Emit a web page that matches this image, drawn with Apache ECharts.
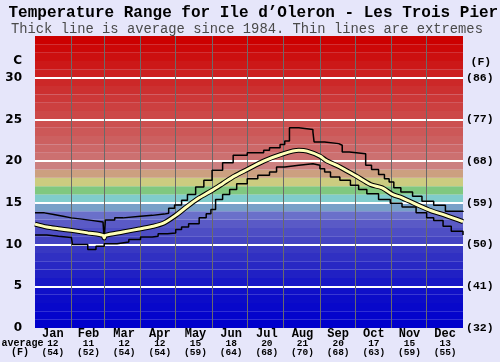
<!DOCTYPE html>
<html><head><meta charset="utf-8">
<script src="https://cdn.jsdelivr.net/npm/echarts@6/dist/echarts.min.js"></script>
<style>html,body{margin:0;padding:0;background:#e6e6fa}#c{width:500px;height:362px}</style>
</head><body><div id="c"></div>
<script>
// ---- data ----
const months = ['Jan','Feb','Mar','Apr','May','Jun','Jul','Aug','Sep','Oct','Nov','Dec'];
const avgC = [12,11,12,12,15,18,20,21,20,17,15,13];
const avgF = [54,52,54,54,59,64,68,70,68,63,59,55];
const cTickLabels = ['0','5','10','15','20','25','30'];
const fTickLabels = ['(32)','(41)','(50)','(59)','(68)','(77)','(86)'];
const monthStartDays = [31,59,90,120,151,181,212,243,273,304,334];

const maxDays  = [0,8,16,24,31,40,48,58,59,60,68,75,90,100,110,114,119,125,130,137,144,151,160,169,181,195,200,209,213,217,225,237,238,247,259,262,268,282,287,293,298,302,306,312,322,330,340,350,365];
const maxTemps = [13.8,13.6,13.4,13.2,13.05,12.9,12.7,12.7,10.6,12.95,13.2,13.4,13.5,13.65,13.75,14.35,14.75,15.3,16.0,16.9,17.7,18.9,19.8,20.7,21.0,21.3,21.6,22.0,22.4,24.0,23.8,23.5,22.3,22.1,21.9,21.1,20.9,19.5,19.0,18.4,17.9,17.5,16.8,16.3,15.8,15.2,14.7,14.0,13.9];

const avgDays  = [0,10,20,31,45,55,58,59,60,75,90,101,110,120,130,140,151,160,170,181,195,210,225,232,243,248,260,274,286,296,305,313,336,349,365];
const avgTemps = [12.45,12.1,11.9,11.7,11.4,11.2,11.1,10.8,11.1,11.5,11.9,12.2,12.6,13.5,14.6,15.6,16.5,17.3,18.2,19.0,20.0,20.8,21.3,21.2,20.6,20.1,19.3,18.2,17.2,16.8,16.0,15.6,14.15,13.55,12.75];

const minDays  = [0,10,20,31,32,45,52,59,70,80,90,100,105,113,120,125,131,140,146,150,154,160,166,172,181,190,200,206,213,225,237,243,247,252,260,269,276,283,293,303,313,325,334,340,348,355,365];
const minTemps = [11.15,11.0,10.85,10.65,10.0,9.4,9.8,10.1,10.3,10.6,10.9,11.0,11.3,11.4,11.8,12.1,12.5,13.2,13.7,14.2,15.4,16.0,16.6,17.3,17.9,18.3,18.7,19.3,19.5,19.7,19.5,19.1,18.7,18.1,17.7,17.1,16.6,16.1,15.4,14.95,14.5,13.8,13.2,12.9,12.2,11.6,11.15];

// ---- styling ----
const bandColors = [
 '#0000cc','#0404cc','#0808ca','#0c0cc8','#1010c8','#1818c6','#2020c4','#2828c4','#3030c2','#3838c2',
 '#4444c2','#4e4ec4','#5a5ac6','#6a70ca','#78a0c8','#80cccc','#80c880','#cccc80','#cca080','#cc8080',
 '#cc7070','#cc6868','#cc6060','#cc5858','#cc5050','#cc4848','#cc4040','#cc3838','#cc3030','#cc2828',
 '#cc2020','#cc1818','#cc1010','#cc0808','#cc0000'];

const pairs = (d, t) => d.map((x, i) => [x, t[i]]);
const bands = bandColors.map((c, i) => [{yAxis: i, itemStyle: {color: c}}, {yAxis: i + 1}]);

const chart = echarts.init(document.getElementById('c'), null, {renderer: 'canvas'});
const mono = '"Liberation Mono", monospace';
chart.setOption({
  animation: false,
  backgroundColor: '#e6e6fa',
  grid: {left: 35, right: 37, top: 36, bottom: 34},
  xAxis: [
    {type: 'value', min: 0, max: 365, show: false},
    {type: 'category', data: months, position: 'bottom',
     axisLine: {show: false}, axisTick: {show: false}, splitLine: {show: false},
     axisLabel: {interval: 0, margin: 1,
       formatter: (v, i) => `{m|${v}}\n{v|${avgC[i]}}\n{f|(${avgF[i]})}`,
       rich: {
         m: {fontFamily: mono, fontWeight: 'bold', fontSize: 12, lineHeight: 10, color: '#000'},
         v: {fontFamily: mono, fontWeight: 'bold', fontSize: 9.5, lineHeight: 9, color: '#000'},
         f: {fontFamily: mono, fontWeight: 'bold', fontSize: 9.5, lineHeight: 9, color: '#000'}
       }}}
  ],
  yAxis: [
    {type: 'value', min: 0, max: 35, interval: 5, z: 3,
     axisLine: {show: false}, axisTick: {show: false},
     splitLine: {show: true, showMinLine: false, showMaxLine: false, lineStyle: {color: '#ffffff', width: 2}},
     axisLabel: {margin: 13, formatter: v => cTickLabels[v / 5] || '',
       fontFamily: '"DejaVu Sans"', fontWeight: 'bold', fontSize: 12, color: '#000'}},
    {type: 'value', min: 0, max: 35, interval: 5, position: 'right',
     axisLine: {show: false}, axisTick: {show: false}, splitLine: {show: false},
     axisLabel: {margin: 3, formatter: v => fTickLabels[v / 5] || '',
       fontFamily: mono, fontWeight: 'bold', fontSize: 11.5, color: '#000'}}
  ],
  graphic: [
    {type: 'text', x: 8.5, y: 13, style: {text: 'Temperature Range for Ile d’Oleron - Les Trois Pier', font: 'bold 16px ' + mono, fill: '#000', verticalAlign: 'middle'}},
    {type: 'text', x: 11, y: 29, style: {text: 'Thick line is average since 1984. Thin lines are extremes', font: '13.8px ' + mono, fill: '#4a4a4a', verticalAlign: 'middle'}},
    {type: 'text', x: 22, y: 61, style: {text: 'C', font: 'bold 12px "DejaVu Sans"', fill: '#000', align: 'right', verticalAlign: 'middle'}},
    {type: 'text', x: 470.5, y: 62.5, style: {text: '(F)', font: 'bold 11.5px ' + mono, fill: '#000', verticalAlign: 'middle'}},
    {type: 'text', x: 1.5, y: 343, style: {text: 'average', font: 'bold 10px ' + mono, fill: '#000', verticalAlign: 'middle'}},
    {type: 'text', x: 20, y: 352.5, style: {text: '(F)', font: 'bold 10px ' + mono, fill: '#000', align: 'center', verticalAlign: 'middle'}}
  ],
  series: [
    {type: 'line', name: 'bands', data: [], z: 1, silent: true,
     markArea: {silent: true, data: bands}},
    {type: 'line', name: 'months', data: [], z: 2, silent: true,
     markLine: {silent: true, symbol: 'none', label: {show: false},
       lineStyle: {color: '#6a6a6a', width: 1, type: 'solid'},
       data: monthStartDays.map(d => ({xAxis: d}))}},
    {type: 'line', name: 'max', data: pairs(maxDays, maxTemps), step: 'end', showSymbol: false, z: 5,
     lineStyle: {color: '#000', width: 1.5}},
    {type: 'line', name: 'min', data: pairs(minDays, minTemps), step: 'end', showSymbol: false, z: 5,
     lineStyle: {color: '#000', width: 1.5}},
    {type: 'line', name: 'avgOutline', data: pairs(avgDays, avgTemps), smooth: 0.3, showSymbol: false, z: 6,
     lineStyle: {color: '#000', width: 5}},
    {type: 'line', name: 'avg', data: pairs(avgDays, avgTemps), smooth: 0.3, showSymbol: false, z: 7,
     lineStyle: {color: '#ffffb8', width: 3}}
  ]
});
</script>
</body></html>
